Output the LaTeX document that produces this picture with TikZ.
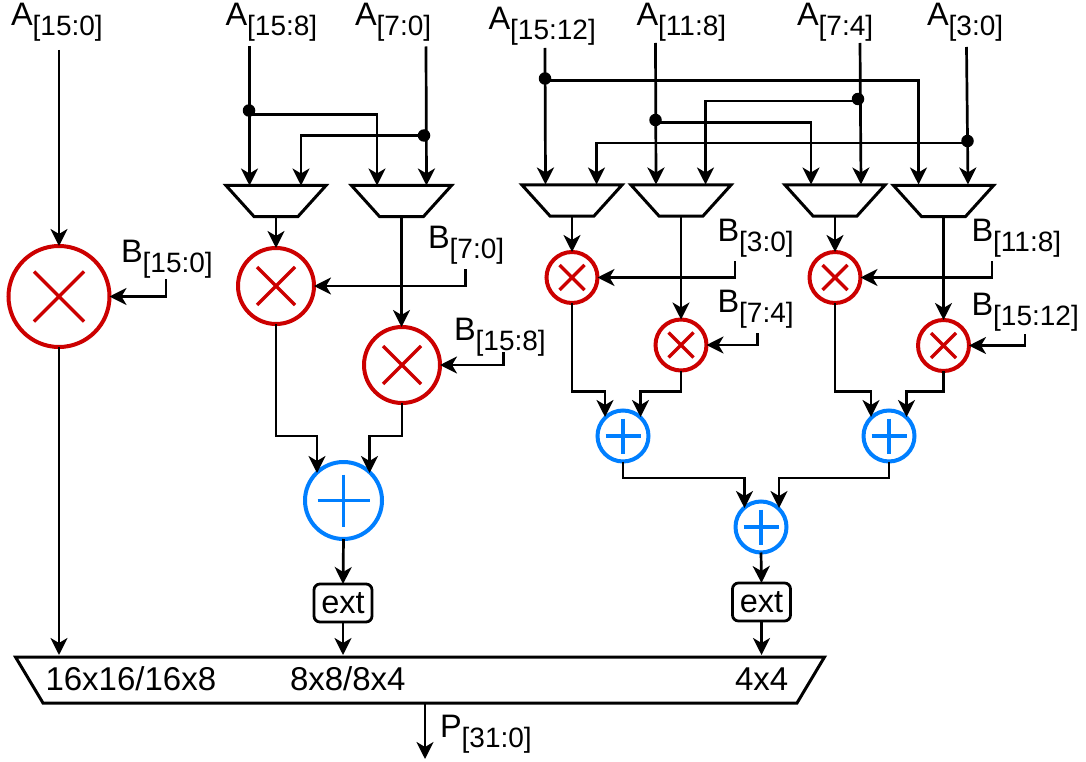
\documentclass[tikz,border=0pt]{standalone}
\usepackage{fontspec}
\setmainfont{Liberation Sans}
\usetikzlibrary{arrows.meta,calc}
\definecolor{mulred}{HTML}{CC0000}
\definecolor{addblue}{HTML}{007FFF}
\newcommand{\sig}[2]{{\fontsize{32.5}{32}\selectfont #1}\raisebox{-10pt}{\fontsize{28}{28}\selectfont #2}}
\newcommand{\timesmark}[2]{\draw[markred] ($(#1)+(-#2,-#2)$) -- ($(#1)+(#2,#2)$) ($(#1)+(#2,-#2)$) -- ($(#1)+(-#2,#2)$);}
\newcommand{\plusmark}[2]{\draw[markblue] ($(#1)+(-#2,0)$) -- ($(#1)+(#2,0)$) ($(#1)+(0,-#2)$) -- ($(#1)+(0,#2)$);}
\newcommand{\trapshape}[2]{\draw[trapline] (#1.north west) -- (#1.north east) -- ($(#1.south east)+(-#2,0)$) -- ($(#1.south west)+(#2,0)$) -- cycle;}
\tikzset{
  mulnode/.style={circle,draw=mulred,line width=4pt,inner sep=0pt,outer sep=0pt,fill=white},
  addnode/.style={circle,draw=addblue,line width=4pt,inner sep=0pt,outer sep=0pt,fill=white},
  markred/.style={draw=mulred,line width=3.4pt},
  markblue/.style={draw=addblue,line width=3.4pt},
  trapline/.style={draw,line width=3pt,line join=miter,fill=white},
  muxnode/.style={rectangle,minimum width=100pt,minimum height=31pt,inner sep=0pt,outer sep=0pt},
  outmux/.style={rectangle,minimum width=809pt,minimum height=46pt,inner sep=0pt,outer sep=0pt},
  extnode/.style={draw,rounded corners=6pt,line width=2.8pt,minimum width=58pt,minimum height=38pt,inner sep=0pt,outer sep=0pt,fill=white,font=\fontsize{32.5}{32}\selectfont},
  txt/.style={anchor=base west,inner sep=0pt,outer sep=0pt},
  modetxt/.style={anchor=base west,inner sep=0pt,outer sep=0pt,font=\fontsize{33}{32}\selectfont},
  wire/.style={line width=2.7pt,-{Stealth[length=17pt,width=17pt,inset=5pt]}},
  tapdot/.style={circle,fill=black,inner sep=0pt,outer sep=0pt,minimum size=12.5pt}
}
\begin{document}
\begin{tikzpicture}[x=1pt,y=-1pt]
\useasboundingbox[fill=white] (0,0) rectangle (1086,762);
% labels
\node[txt] (lA150) at (11,26) {\sig{A}{[15:0]}};
\node[txt] (lA158) at (225.5,26) {\sig{A}{[15:8]}};
\node[txt] (lA70) at (355,26) {\sig{A}{[7:0]}};
\node[txt] (lA1512) at (488.5,30) {\sig{A}{[15:12]}};
\node[txt] (lA118) at (636.5,26) {\sig{A}{[11:8]}};
\node[txt] (lA74) at (797,26) {\sig{A}{[7:4]}};
\node[txt] (lA30) at (927,26) {\sig{A}{[3:0]}};
\node[txt] (lB150) at (121,262) {\sig{B}{[15:0]}};
\node[txt] (lB70) at (428,248) {\sig{B}{[7:0]}};
\node[txt] (lB158) at (454,340.5) {\sig{B}{[15:8]}};
\node[txt] (lB30) at (717.5,241) {\sig{B}{[3:0]}};
\node[txt] (lB74) at (717.5,312) {\sig{B}{[7:4]}};
\node[txt] (lB118) at (971.5,241) {\sig{B}{[11:8]}};
\node[txt] (lB1512) at (971.5,315) {\sig{B}{[15:12]}};
\node[txt] (lP) at (440,737) {\sig{P}{[31:0]}};
% functional nodes
\node[mulnode,minimum size=101pt] (m16) at (59,296.5) {};
\node[mulnode,minimum size=76pt] (m8a) at (276,286) {};
\node[mulnode,minimum size=76pt] (m8b) at (402,365) {};
\node[mulnode,minimum size=51pt] (m4a) at (572,277.5) {};
\node[mulnode,minimum size=51pt] (m4b) at (681,345) {};
\node[mulnode,minimum size=51pt] (m4c) at (835,277.5) {};
\node[mulnode,minimum size=51pt] (m4d) at (943.5,345.5) {};
\node[addnode,minimum size=77pt] (p8) at (343.5,500.5) {};
\node[addnode,minimum size=51pt] (p4a) at (623,436) {};
\node[addnode,minimum size=51pt] (p4b) at (889,436) {};
\node[addnode,minimum size=51pt] (p4c) at (761,527) {};
\timesmark{m16}{25}
\timesmark{m8a}{19}
\timesmark{m8b}{19}
\timesmark{m4a}{12.5}
\timesmark{m4b}{12.5}
\timesmark{m4c}{12.5}
\timesmark{m4d}{12.5}
\plusmark{p8}{26}
\plusmark{p4a}{17.5}
\plusmark{p4b}{17.5}
\plusmark{p4c}{17.5}
\node[muxnode] (mxa) at (276,201) {};
\node[muxnode] (mxb) at (401.5,201) {};
\node[muxnode] (mxc) at (572,200.5) {};
\node[muxnode] (mxd) at (681,200.5) {};
\node[muxnode] (mxe) at (835,200.5) {};
\node[muxnode] (mxf) at (943.5,201) {};
\trapshape{mxa}{28}
\trapshape{mxb}{28}
\trapshape{mxc}{28}
\trapshape{mxd}{28}
\trapshape{mxe}{28}
\trapshape{mxf}{28}
\node[extnode] (exta) at (343,603) {ext};
\node[extnode] (extb) at (761.5,602) {ext};
\node[outmux] (pm) at (420,680) {};
\trapshape{pm}{27.5}
\node[modetxt] (t16) at (45.5,690) {16x16/16x8};
\node[modetxt] (t8) at (290,690) {8x8/8x4};
\node[modetxt] (t4) at (735,690) {4x4};
% free ends
\coordinate (sA150) at (59,50);
\coordinate (sA158) at (249.5,46);
\coordinate (sA70) at (426,46.5);
\coordinate (sA1512) at (545,48);
\coordinate (sA118) at (655.5,43);
\coordinate (sA74) at (860,43);
\coordinate (sA30) at (966.5,47);
\coordinate (sB150) at (166,279);
\coordinate (sB70) at (465.5,269);
\coordinate (sB158) at (503.5,352);
\coordinate (sB30) at (735,261);
\coordinate (sB74) at (757.5,333);
\coordinate (sB118) at (992,261);
\coordinate (sB1512) at (1025,334);
\coordinate (pmIn16) at (59,655);
\coordinate (pmIn8) at (343,655);
\coordinate (pmIn4) at (761.5,655);
\coordinate (pOutEnd) at (425,759);
\coordinate (ia1) at (249.5,185.5);
\coordinate (ia2) at (301,185.5);
\coordinate (ib1) at (377,185.5);
\coordinate (ib2) at (426.5,185.5);
\coordinate (ic1) at (545.5,184.5);
\coordinate (ic2) at (596.5,184.5);
\coordinate (id1) at (656,184.5);
\coordinate (id2) at (705.5,184.5);
\coordinate (ie1) at (811,184.5);
\coordinate (ie2) at (861,184.5);
\coordinate (if1) at (918.5,184.5);
\coordinate (if2) at (968,184.5);
% taps
\node[tapdot] (d1) at (249,110.5) {};
\node[tapdot] (d2) at (424,135.5) {};
\node[tapdot] (d3) at (545,78.5) {};
\node[tapdot] (d4) at (655.5,120) {};
\node[tapdot] (d5) at (858,99) {};
\node[tapdot] (d6) at (967.5,141) {};
% connectors
\draw[wire] (sA150) -- (m16.north);
\draw[wire] (m16.south) -- (pmIn16);
\draw[wire] (sB150) |- (m16.east);
\draw[wire] (sA158) -- (ia1);
\draw[wire] (sA70) -- (ib2);
\draw[wire] (d1.center) ++(0,4) -| (ib1);
\draw[wire] (d2.center) -| (ia2);
\draw[wire] (sA1512) -- (ic1);
\draw[wire] (sA118) -- (id1);
\draw[wire] (sA74) -- (ie2);
\draw[wire] (sA30) -- (if2);
\draw[wire] (d3.center) ++(0,2) -| (if1);
\draw[wire] (d5.center) ++(0,2) -| (id2);
\draw[wire] (d4.center) ++(0,2.5) -| (ie1);
\draw[wire] (d6.center) ++(0,2) -| (ic2);
\draw[wire] (mxa.south) -- (m8a.north);
\draw[wire] (mxb.south) -- (mxb.south |- m8b.north);
\draw[wire] (sB70) |- (m8a.east);
\draw[wire] (sB158) |- (m8b.east);
\draw[wire] (mxc.south) -- (m4a.north);
\draw[wire] (mxd.south) -- (m4b.north);
\draw[wire] (mxe.south) -- (m4c.north);
\draw[wire] (mxf.south) -- (m4d.north);
\draw[wire] (sB30) |- (m4a.east);
\draw[wire] (sB74) |- (m4b.east);
\draw[wire] (sB118) |- (m4c.east);
\draw[wire] (sB1512) |- (m4d.east);
\draw[wire] (m8a.south) |- (317,436) -- (317,473);
\draw[wire] (m8b.south) |- (369.5,436) -- (369.5,473);
\draw[wire] (m4a.south) |- (605,391.5) -- (605,417);
\draw[wire] (m4b.south) |- (640.5,391.5) -- (640.5,417);
\draw[wire] (m4c.south) |- (871,391.5) -- (871,417);
\draw[wire] (m4d.south) |- (906.5,391.5) -- (906.5,417);
\draw[wire] (p4a.south) |- (744.5,478) -- (744.5,508);
\draw[wire] (p4b.south) |- (779,478) -- (779,508);
\draw[wire] (p8.south) -- (exta.north);
\draw[wire] (p4c.south) -- (extb.north);
\draw[wire] (exta.south) -- (pmIn8);
\draw[wire] (extb.south) -- (pmIn4);
\draw[wire] (pm.south -| pOutEnd) -- (pOutEnd);
\end{tikzpicture}
\end{document}
